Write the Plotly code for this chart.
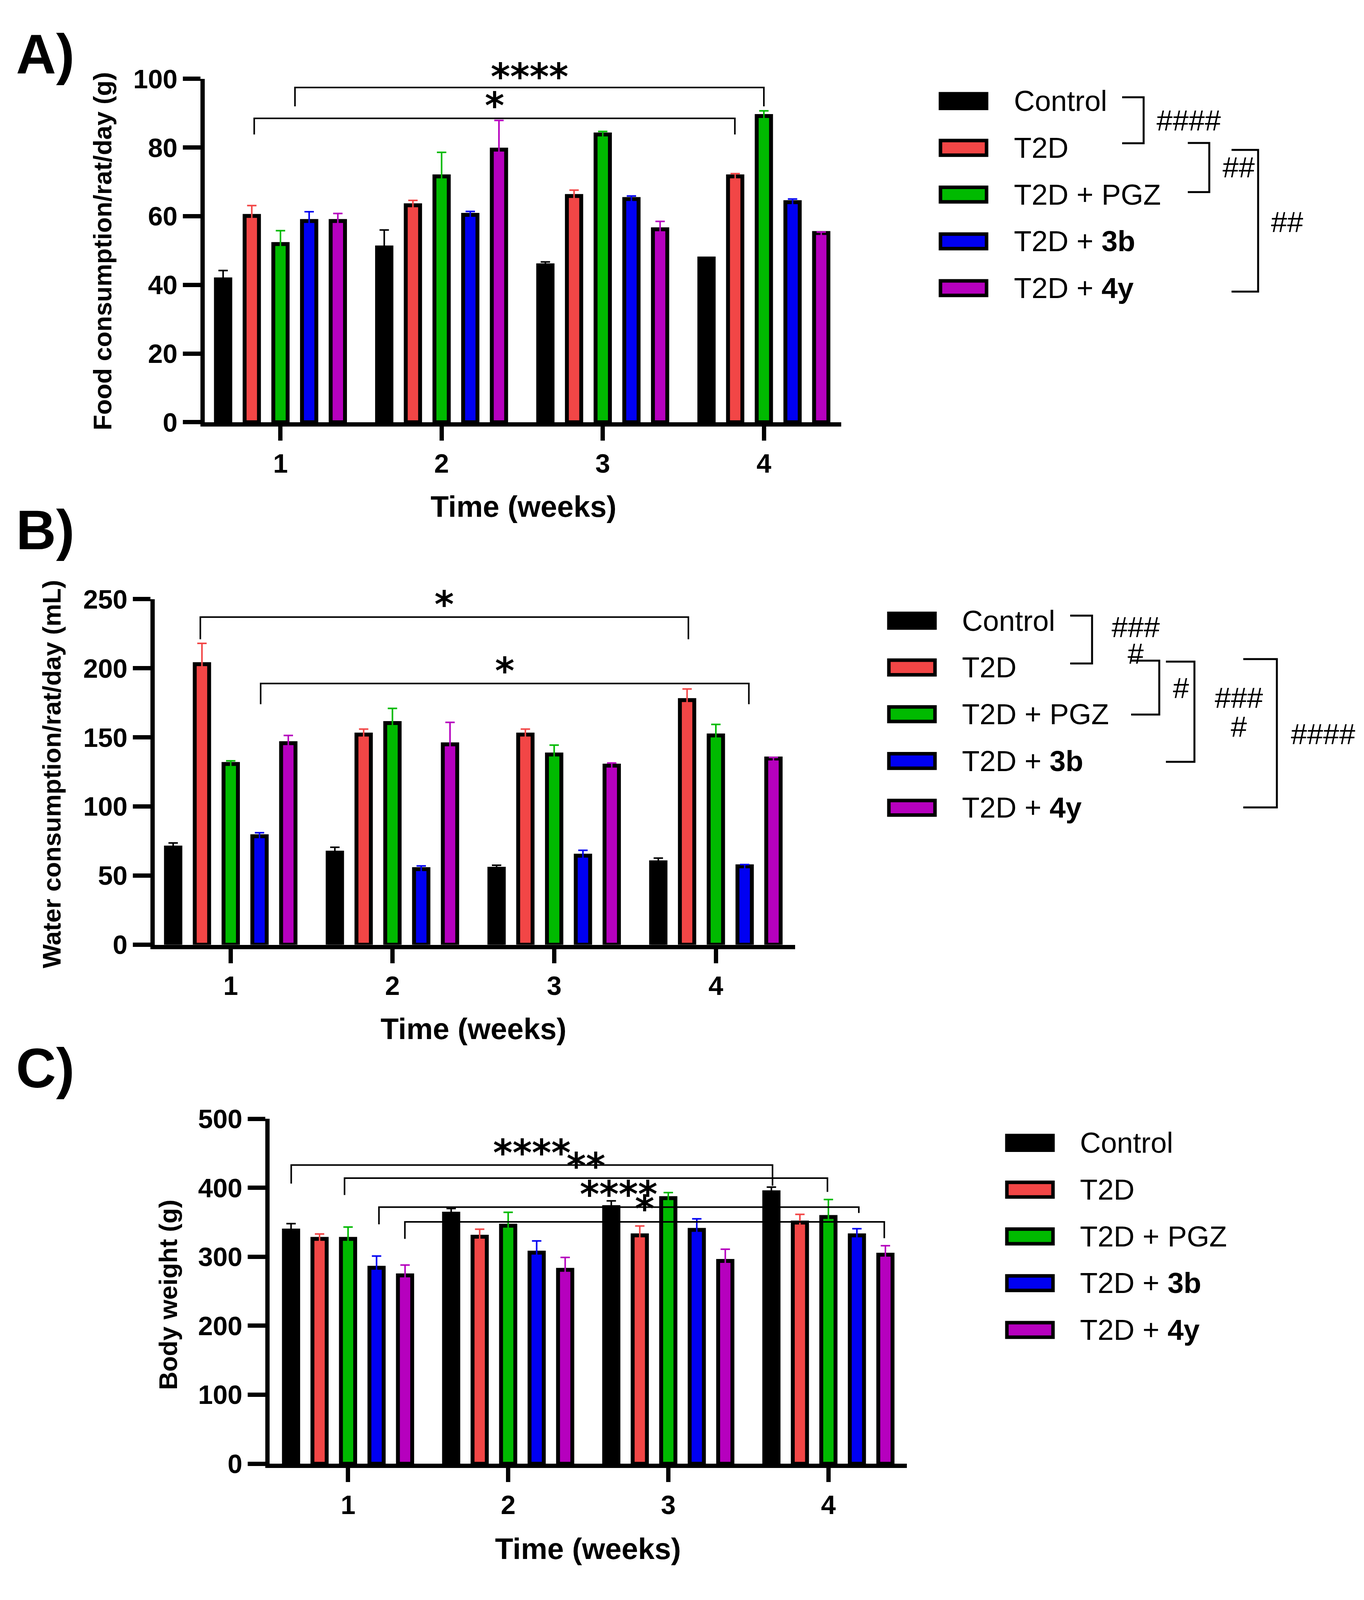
import plotly.graph_objects as go

# Coordenadas de referencia (px de la imagen original 3491x4953)
W, H = 3491, 4953
# La ventana real del navegador mide 3491x4096: la figura se ajusta a ella
FIG_H = 4096
FS = 0.95           # escala de fuentes horizontales
FS_ROT = FIG_H / H  # escala de los títulos verticales
FONT = "Liberation Sans, Arial, sans-serif"

# Datos
weeks = [1, 2, 3, 4]
groups = ["Control", "T2D", "T2D + PGZ", "T2D + 3b", "T2D + 4y"]
legend_labels = ["Control", "T2D", "T2D + PGZ", "T2D + <b>3b</b>", "T2D + <b>4y</b>"]
colors = ["#000000", "#F24646", "#00BA00", "#0000F2", "#B600BE"]

# A) consumo de comida (g) - media y SEM por grupo, semanas 1-4
food_mean = [
    [41.6, 50.9, 45.7, 47.7],
    [60.1, 63.2, 65.9, 71.6],
    [51.9, 71.6, 83.8, 89.2],
    [58.6, 60.4, 65.0, 64.1],
    [58.6, 79.4, 56.2, 55.1],
]
food_sem = [
    [2.6, 5.1, 1.0, 0.3],
    [3.0, 1.4, 1.7, 0.8],
    [3.9, 7.0, 0.9, 1.5],
    [2.7, 1.0, 0.9, 0.9],
    [2.2, 8.5, 2.3, 0.3],
]

# B) consumo de agua (mL)
water_mean = [
    [70.3, 66.6, 55.0, 59.6],
    [203.0, 152.0, 152.0, 177.0],
    [130.8, 160.4, 137.6, 151.4],
    [78.5, 54.7, 64.4, 56.7],
    [145.8, 145.0, 129.6, 134.7],
]
water_sem = [
    [3.3, 3.9, 2.5, 3.1],
    [15.0, 4.0, 4.0, 8.0],
    [2.2, 10.6, 6.8, 8.0],
    [2.5, 2.3, 3.9, 1.3],
    [5.6, 15.9, 1.9, 0.8],
]

# C) peso corporal (g)
weight_mean = [
    [338, 362.5, 372, 393.4],
    [326, 329, 331, 349.6],
    [326, 345, 385, 357.6],
    [284, 306, 339, 331],
    [273, 281, 294, 303],
]
weight_sem = [
    [10, 7.5, 9, 7.6],
    [7, 11, 13.6, 11.9],
    [17, 19.5, 8, 25.4],
    [17, 17, 16, 9.6],
    [15, 18, 17, 13],
]

# Comparaciones (x0, x1, y barra, y extremo izq, y extremo der, texto, y texto)
food_brackets = [
    (1.09, 4.0, 97.5, 92.0, 92.0, "****", 103.0),
    (0.837, 3.82, 88.5, 83.8, 83.8, "*", 94.5),
]
water_brackets = [
    (0.812, 3.83, 237, 221, 221, "*", 252),
    (1.185, 4.204, 189, 174, 174, "*", 204),
]
weight_brackets = [
    (0.645, 3.651, 433, 406, 403, "****", 462),
    (0.978, 3.994, 414, 389.5, 394, "**", 443),
    (1.193, 4.19, 372, 347, 363.5, "****", 402),
    (1.355, 4.349, 350.6, 326, 327, "*", 381),
]

# Comparaciones de la leyenda (x izq, x der, y sup, y inf) en px, y etiquetas
food_leg_brackets = [(2872, 2927, 260, 405), (3040, 3095, 404, 559), (3152, 3220, 426, 873)]
food_leg_labels = [("####", 3042, 333), ("##", 3170, 481), ("##", 3294, 654)]
water_leg_brackets = [(2739, 2795, 1895, 2046), (2895, 2967, 2037, 2207),
                      (2984, 3057, 2040, 2356), (3182, 3268, 2032, 2500)]
water_leg_labels = [("###", 2906, 1931), ("#", 2906, 2015), ("#", 3022, 2123),
                    ("###", 3170, 2154), ("#", 3170, 2246), ("####", 3386, 2269)]


def px(x, y):
    return x / W, 1 - y / H


panels = [
    dict(sfx="", mean=food_mean, sem=food_sem, brackets=food_brackets,
         xdom=(524, 2153), ydom=(1285, 202), xr=[0.53, 4.48], ymax=100, dtick=20,
         ytitle="Food consumption/rat/day (g)", ytitle_pos=(262, 746),
         xtitle_pos=(1340, 1550), tag="A)", tag_pos=(116, 124),
         leg_x=2407, leg_text_x=2593, leg_y0=272,
         leg_br=food_leg_brackets, leg_lab=food_leg_labels),
    dict(sfx="2", mean=water_mean, sem=water_sem, brackets=water_brackets,
         xdom=(396, 2035), ydom=(2933, 1843), xr=[0.53, 4.49], ymax=250, dtick=50,
         ytitle="Water consumption/rat/day (mL)", ytitle_pos=(133, 2395),
         xtitle_pos=(1212, 3198), tag="B)", tag_pos=(116, 1625),
         leg_x=2275, leg_text_x=2460, leg_y0=1911,
         leg_br=water_leg_brackets, leg_lab=water_leg_labels),
    dict(sfx="3", mean=weight_mean, sem=weight_sem, brackets=weight_brackets,
         xdom=(690, 2321), ydom=(4570, 3482), xr=[0.51, 4.49], ymax=500, dtick=100,
         ytitle="Body weight (g)", ytitle_pos=(430, 4038),
         xtitle_pos=(1505, 4838), tag="C)", tag_pos=(116, 3322),
         leg_x=2577, leg_text_x=2762, leg_y0=3558,
         leg_br=[], leg_lab=[]),
]

fig = go.Figure()
shapes = []
annotations = []
ROW = 147.5

for p in panels:
    xa, ya = "x" + p["sfx"], "y" + p["sfx"]
    yd0, yd1 = 1 - p["ydom"][0] / H, 1 - p["ydom"][1] / H
    for i, g in enumerate(groups):
        # la barra de error baja dentro de la barra (mismo color) para que solo se vea arriba
        down = [m - 0.02 * p["ymax"] for m in p["mean"][i]]
        fig.add_trace(go.Bar(
            x=weeks, y=p["mean"][i], name=g, xaxis=xa, yaxis=ya, showlegend=False,
            marker=dict(color=colors[i], line=dict(color="black", width=10)),
            error_y=dict(type="data", symmetric=False, array=p["sem"][i],
                         arrayminus=down, color=colors[i], thickness=4, width=12),
        ))

    axis_common = dict(showline=True, linewidth=11, linecolor="black", ticks="outside",
                       tickwidth=11, tickcolor="black", showgrid=False, zeroline=False,
                       tickfont=dict(family=FONT, size=round(72 * FS), color="black",
                                     weight="bold"))
    fig.update_layout(**{
        "xaxis" + p["sfx"]: dict(domain=[p["xdom"][0] / W, p["xdom"][1] / W], range=p["xr"],
                                  anchor=ya, tickvals=weeks, ticklen=36, **axis_common),
        "yaxis" + p["sfx"]: dict(domain=[yd0, yd1], range=[0, p["ymax"]], dtick=p["dtick"],
                                  anchor=xa, ticklen=45, **axis_common),
    })

    # corchetes de significancia dentro del gráfico
    for x0, x1, yb, yl, yr, txt, ty in p["brackets"]:
        shapes.append(dict(type="path", xref=xa, yref=ya,
                           path=f"M {x0},{yl} L {x0},{yb} L {x1},{yb} L {x1},{yr}",
                           line=dict(color="black", width=4)))
        annotations.append(dict(text=txt, x=(x0 + x1) / 2, xref=xa,
                                y=yd0 + (yd1 - yd0) * ty / p["ymax"], yref="paper",
                                yshift=-20, showarrow=False, xanchor="center", yanchor="middle",
                                font=dict(family="DejaVu Sans", size=round(100 * FS),
                                          color="black", weight="bold")))

    # títulos de ejes y etiqueta del panel
    tx, ty = px(*p["ytitle_pos"])
    annotations.append(dict(text=p["ytitle"], x=tx, y=ty, xref="paper", yref="paper",
                            textangle=-90, showarrow=False, xanchor="center", yanchor="middle",
                            font=dict(family=FONT, size=round(78 * FS_ROT), color="black",
                                      weight="bold")))
    tx, ty = px(*p["xtitle_pos"])
    annotations.append(dict(text="Time (weeks)", x=tx, y=ty, xref="paper", yref="paper",
                            showarrow=False, xanchor="center", yanchor="middle",
                            font=dict(family=FONT, size=round(80 * FS), color="black",
                                      weight="bold")))
    tx, ty = px(*p["tag_pos"])
    annotations.append(dict(text=p["tag"], x=tx, y=ty, xref="paper", yref="paper",
                            showarrow=False, xanchor="center", yanchor="middle",
                            font=dict(family=FONT, size=round(150 * FS), color="black",
                                      weight="bold")))

    # leyenda manual
    for i, lab in enumerate(legend_labels):
        cy = p["leg_y0"] + ROW * i
        x0, y0 = px(p["leg_x"], cy + 23)
        x1, y1 = px(p["leg_x"] + 118, cy - 23)
        shapes.append(dict(type="rect", xref="paper", yref="paper", x0=x0, y0=y0, x1=x1, y1=y1,
                           fillcolor=colors[i], line=dict(color="black", width=9)))
        tx, ty = px(p["leg_text_x"], cy)
        annotations.append(dict(text=lab, x=tx, y=ty, xref="paper", yref="paper",
                                showarrow=False, xanchor="left", yanchor="middle",
                                font=dict(family=FONT, size=round(78 * FS), color="black")))
    for xl, xr, yt, yb in p["leg_br"]:
        pts = [px(xl, yt), px(xr, yt), px(xr, yb), px(xl, yb)]
        path = "M " + " L ".join(f"{a},{b}" for a, b in pts)
        shapes.append(dict(type="path", xref="paper", yref="paper", path=path,
                           line=dict(color="black", width=5)))
    for txt, lx, ly in p["leg_lab"]:
        tx, ty = px(lx, ly)
        annotations.append(dict(text=txt, x=tx, y=ty, xref="paper", yref="paper",
                                showarrow=False, xanchor="center", yanchor="middle",
                                font=dict(family=FONT, size=round(78 * FS), color="black")))

fig.update_layout(
    width=W, height=FIG_H, margin=dict(l=0, r=0, t=0, b=0),
    paper_bgcolor="white", plot_bgcolor="white",
    barmode="group", bargap=0.11, bargroupgap=0.5,
    shapes=shapes, annotations=annotations,
)

# sin margen del body; la altura sigue a la ventana si es distinta
fit_js = ("document.body.style.margin = '0';"
          "var gd = document.getElementById('{plot_id}');"
          "if (Math.abs(window.innerHeight - %d) > 2) { Plotly.relayout(gd, {height: window.innerHeight}); }"
          % FIG_H)
fig.write_html("out.html", post_script=fit_js, config={"displayModeBar": False})
